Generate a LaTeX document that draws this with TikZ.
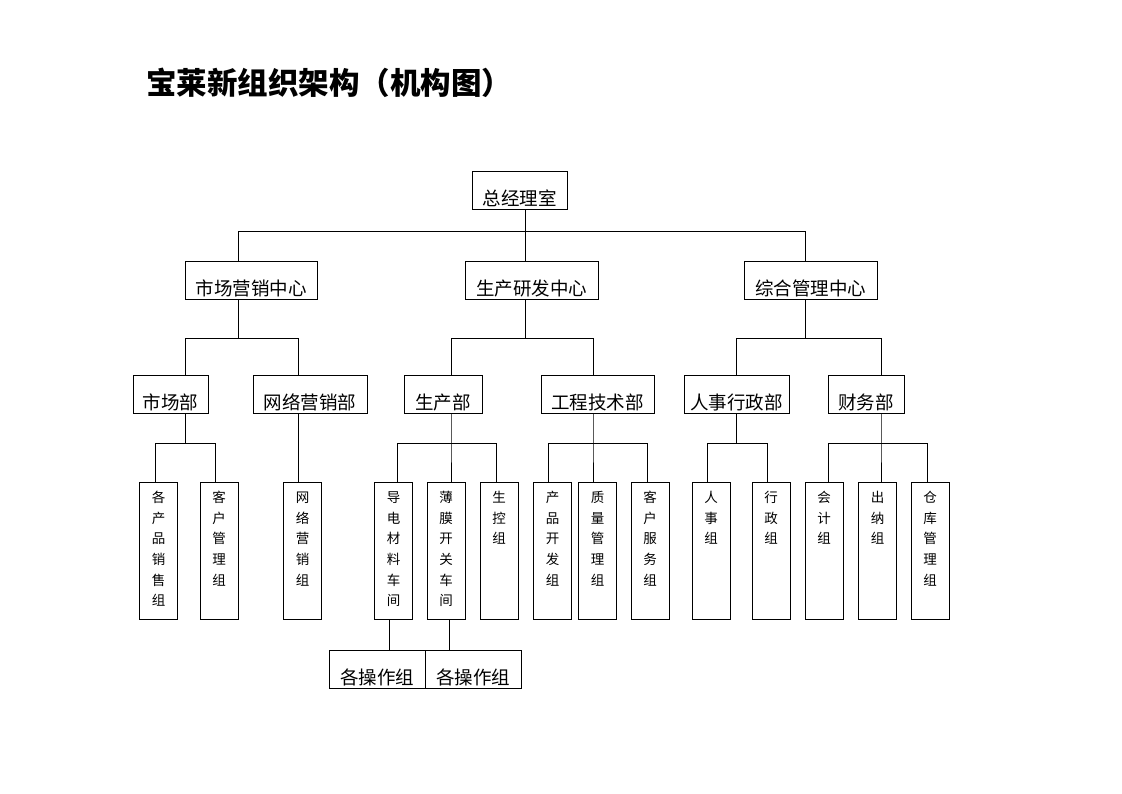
\documentclass[tikz,border=0pt]{standalone}
\usepackage{fontspec}
\newfontfamily\cjk{Noto Sans CJK SC}
\usepackage{tikz}

\tikzset{
  box/.style={draw, line width=0.9pt, inner sep=0pt, minimum height=38pt,
    text height=34pt, text depth=4pt, font=\cjk\fontsize{18.5}{18.5}\selectfont},
  col/.style={draw, line width=0.9pt, inner sep=0pt, anchor=north,
    text width=38pt, align=center, text height=20pt, text depth=117pt,
    font=\cjk\fontsize{13.5}{20.7}\selectfont},
  link/.style={line width=0.9pt}
}

\begin{document}
\begin{tikzpicture}[x=1pt,y=-1pt]
  \useasboundingbox (0,0) rectangle (1122,793);

  %% Title
  \node[anchor=base west, inner sep=0pt, font=\cjk\bfseries\fontsize{30.5}{30.5}\selectfont]
    (title) at (146,94.5) {宝莱新组织架构（机构图）};

  %% Top
  \node[box, minimum width=95pt] (zjl) at (519.5,190) {总经理室};

  %% Centres
  \node[box, minimum width=132pt] (mkt) at (251,280.5) {市场营销中心};
  \node[box, minimum width=133pt] (rnd) at (531.5,280.5) {生产研发中心};
  \node[box, minimum width=133pt] (adm) at (810.5,280.5) {综合管理中心};

  %% Departments
  \node[box, minimum width=75pt]  (scb)  at (170.5,394) {市场部};
  \node[box, minimum width=114pt] (wlb)  at (310,394)   {网络营销部};
  \node[box, minimum width=78pt]  (scbu) at (443,394)   {生产部};
  \node[box, minimum width=113pt] (gcb)  at (597.5,394) {工程技术部};
  \node[box, minimum width=105pt] (rsb)  at (736.5,394) {人事行政部};
  \node[box, minimum width=76pt]  (cwb)  at (866,394)   {财务部};

  %% Groups
  \node[col] (g1)  at (158.5,482) {各\\产\\品\\销\\售\\组};
  \node[col] (g2)  at (219,482)   {客\\户\\管\\理\\组};
  \node[col] (g3)  at (302.5,482) {网\\络\\营\\销\\组};
  \node[col] (g4)  at (393.5,482) {导\\电\\材\\料\\车\\间};
  \node[col] (g5)  at (446,482)   {薄\\膜\\开\\关\\车\\间};
  \node[col] (g6)  at (499,482)   {生\\控\\组};
  \node[col] (g7)  at (552.5,482) {产\\品\\开\\发\\组};
  \node[col] (g8)  at (597.5,482) {质\\量\\管\\理\\组};
  \node[col] (g9)  at (650,482)   {客\\户\\服\\务\\组};
  \node[col] (g10) at (711,482)   {人\\事\\组};
  \node[col] (g11) at (771,482)   {行\\政\\组};
  \node[col] (g12) at (824,482)   {会\\计\\组};
  \node[col] (g13) at (877.5,482) {出\\纳\\组};
  \node[col] (g14) at (930,482)   {仓\\库\\管\\理\\组};

  %% Workshops
  \node[box, minimum width=96pt] (czA) at (377,669) {各操作组};
  \node[box, minimum width=96pt] (czB) at (473,669) {各操作组};

  %% Top -> centres
  \draw[link] ([xshift=5.5pt]zjl.south) -- ++(0,22) coordinate (b0);
  \draw[link] ([xshift=-13pt]mkt.north) |- (b0) -| ([xshift=-5.5pt]adm.north);
  \draw[link] (b0) -- ([xshift=-6.5pt]rnd.north);

  %% Centres -> departments
  \draw[link] ([xshift=-13pt]mkt.south) -- ++(0,38) coordinate (b1);
  \draw[link] ([xshift=14.5pt]scb.north) |- (b1) -| ([xshift=-12pt]wlb.north);
  \draw[link] ([xshift=-6.5pt]rnd.south) -- ++(0,38) coordinate (b2);
  \draw[link] ([xshift=8pt]scbu.north) |- (b2) -| ([xshift=-4.5pt]gcb.north);
  \draw[link] ([xshift=-5.5pt]adm.south) -- ++(0,38) coordinate (b3);
  \draw[link] (rsb.north) |- (b3) -| ([xshift=15pt]cwb.north);

  %% Departments -> groups
  \draw[link] ([xshift=14.5pt]scb.south) -- ++(0,30) coordinate (b4);
  \draw[link] ([xshift=-3.5pt]g1.north) |- (b4) -| ([xshift=-4pt]g2.north);
  \draw[link] ([xshift=-12pt]wlb.south) -- ([xshift=-4.5pt]g3.north);
  \draw[link] ([xshift=8pt]scbu.south) -- ++(0,30) coordinate (b5) -- ([xshift=5pt]g5.north);
  \draw[link] ([xshift=3.5pt]g4.north) |- (b5) -| ([xshift=-3pt]g6.north);
  \draw[link] ([xshift=-4.5pt]gcb.south) -- ++(0,30) coordinate (b6) -- ([xshift=-4.5pt]g8.north);
  \draw[link] ([xshift=-4.5pt]g7.north) |- (b6) -| ([xshift=-3pt]g9.north);
  \draw[link] (rsb.south) -- ++(0,30) coordinate (b7);
  \draw[link] ([xshift=-4pt]g10.north) |- (b7) -| ([xshift=-4pt]g11.north);
  \draw[link] ([xshift=15pt]cwb.south) -- ++(0,30) coordinate (b8) -- ([xshift=3.5pt]g13.north);
  \draw[link] ([xshift=4pt]g12.north) |- (b8) -| ([xshift=-3pt]g14.north);

  %% Workshops -> operating groups
  \draw[link] ([xshift=-4.5pt]g4.south) -- ([xshift=-4.5pt]g4.south |- czA.north);
  \draw[link] ([xshift=3pt]g5.south) -- ([xshift=3pt]g5.south |- czB.north);
\end{tikzpicture}
\end{document}
